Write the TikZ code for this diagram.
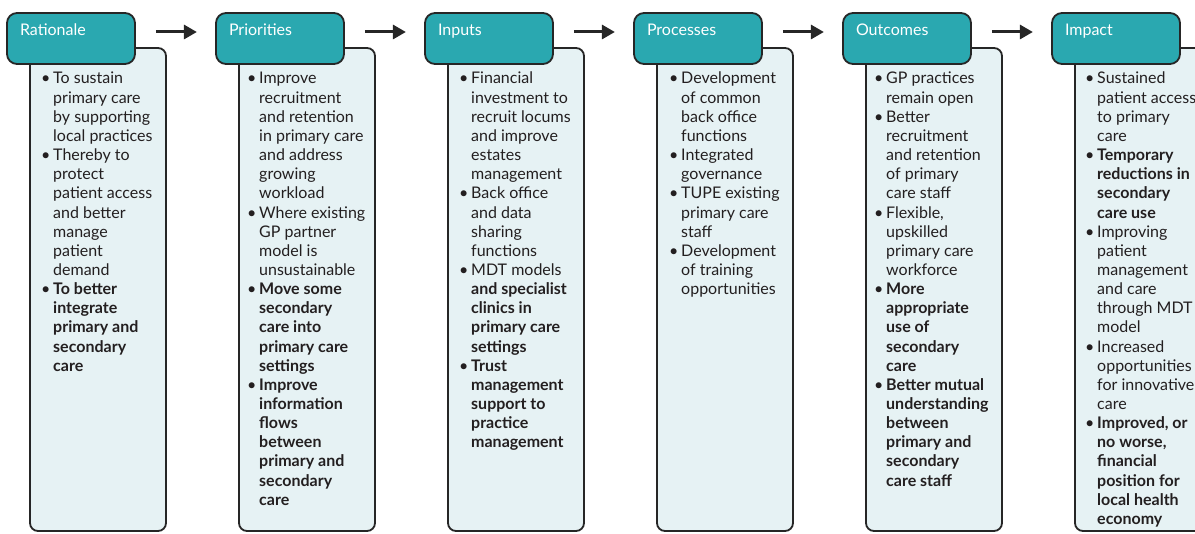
\documentclass[tikz,border=0pt]{standalone}
\usepackage{fontspec}
\setmainfont{Lato}
\usetikzlibrary{arrows.meta,calc}
\definecolor{headteal}{HTML}{2AA8B0}
\definecolor{bodyfill}{HTML}{E6F2F4}
\definecolor{edgecol}{HTML}{262626}
\definecolor{ink}{HTML}{231F20}
\newcommand\bl{\makebox[12pt][l]{\textbullet}}
\newcommand\B[1]{\textbf{#1}}
\tikzset{
  headbox/.style={draw=edgecol, line width=1.8pt, fill=headteal, rounded corners=10pt,
    minimum width=128pt, minimum height=51pt, inner xsep=13pt, inner ysep=0pt,
    text width=102pt, align=left, text height=11pt, text depth=16pt,
    text=white, font=\fontsize{16}{19}\selectfont},
  bodybox/.style={draw=edgecol, line width=1.8pt, fill=bodyfill, rounded corners=8pt,
    minimum width=136pt, minimum height=483pt, inner sep=0pt},
  listtext/.style={anchor=base west, inner sep=0pt, text=ink, font=\fontsize{16}{19.15}\selectfont},
  flowarrow/.style={draw=edgecol, line width=3pt, -{Triangle[length=13pt,width=14pt]}}
}
\begin{document}
\begin{tikzpicture}[x=1pt,y=-1pt]
\useasboundingbox (0,0) rectangle (1195,534);
\clip (0,0) rectangle (1195,534);
% bodies
\foreach \i in {0,...,5}{
  \node[bodybox] (b\i) at ({98+209*\i},289.5) {};
}
% headers
\node[headbox] (h0) at (71,38.5) {Rationale};
\node[headbox] (h1) at (280,38.5) {Priorities};
\node[headbox] (h2) at (489,38.5) {Inputs};
\node[headbox] (h3) at (698,38.5) {Processes};
\node[headbox] (h4) at (907,38.5) {Outcomes};
\node[headbox] (h5) at (1116,38.5) {Impact};
% arrows
\foreach \i in {0,...,4}{
  \coordinate (s\i) at ($(h\i.east)+(20,-6.5)$);
  \coordinate (e\i) at ($(h\i.east)+(61,-6.5)$);
  \draw[flowarrow] (s\i) -- (e\i);
}
% texts
\node[listtext] (t0) at (41,84) {\begin{tabular}[t]{@{}l@{}l@{}}
\bl & To sustain\\
& primary care\\
& by supporting\\
& local practices\\
\bl & Thereby to\\
& protect\\
& patient access\\
& and better\\
& manage\\
& patient\\
& demand\\
\bl & \B{To better}\\
& \B{integrate}\\
& \B{primary and}\\
& \B{secondary}\\
& \B{care}
\end{tabular}};
\node[listtext] (t1) at (247,84) {\begin{tabular}[t]{@{}l@{}l@{}}
\bl & Improve\\
& recruitment\\
& and retention\\
& in primary care\\
& and address\\
& growing\\
& workload\\
\bl & Where existing\\
& GP partner\\
& model is\\
& unsustainable\\
\bl & \B{Move some}\\
& \B{secondary}\\
& \B{care into}\\
& \B{primary care}\\
& \B{settings}\\
\bl & \B{Improve}\\
& \B{information}\\
& \B{flows}\\
& \B{between}\\
& \B{primary and}\\
& \B{secondary}\\
& \B{care}
\end{tabular}};
\node[listtext] (t2) at (459,84) {\begin{tabular}[t]{@{}l@{}l@{}}
\bl & Financial\\
& investment to\\
& recruit locums\\
& and improve\\
& estates\\
& management\\
\bl & Back office\\
& and data\\
& sharing\\
& functions\\
\bl & MDT models\\
& \B{and specialist}\\
& \B{clinics in}\\
& \B{primary care}\\
& \B{settings}\\
\bl & \B{Trust}\\
& \B{management}\\
& \B{support to}\\
& \B{practice}\\
& \B{management}
\end{tabular}};
\node[listtext] (t3) at (669,84) {\begin{tabular}[t]{@{}l@{}l@{}}
\bl & Development\\
& of common\\
& back office\\
& functions\\
\bl & Integrated\\
& governance\\
\bl & TUPE existing\\
& primary care\\
& staff\\
\bl & Development\\
& of training\\
& opportunities
\end{tabular}};
\node[listtext] (t4) at (874,84) {\begin{tabular}[t]{@{}l@{}l@{}}
\bl & GP practices\\
& remain open\\
\bl & Better\\
& recruitment\\
& and retention\\
& of primary\\
& care staff\\
\bl & Flexible,\\
& upskilled\\
& primary care\\
& workforce\\
\bl & \B{More}\\
& \B{appropriate}\\
& \B{use of}\\
& \B{secondary}\\
& \B{care}\\
\bl & \B{Better mutual}\\
& \B{understanding}\\
& \B{between}\\
& \B{primary and}\\
& \B{secondary}\\
& \B{care staff}
\end{tabular}};
\node[listtext] (t5) at (1085,84) {\begin{tabular}[t]{@{}l@{}l@{}}
\bl & Sustained\\
& patient access\\
& to primary\\
& care\\
\bl & \B{Temporary}\\
& \B{reductions in}\\
& \B{secondary}\\
& \B{care use}\\
\bl & Improving\\
& patient\\
& management\\
& and care\\
& through MDT\\
& model\\
\bl & Increased\\
& opportunities\\
& for innovative\\
& care\\
\bl & \B{Improved, or}\\
& \B{no worse,}\\
& \B{financial}\\
& \B{position for}\\
& \B{local health}\\
& \B{economy}
\end{tabular}};
\end{tikzpicture}
\end{document}
